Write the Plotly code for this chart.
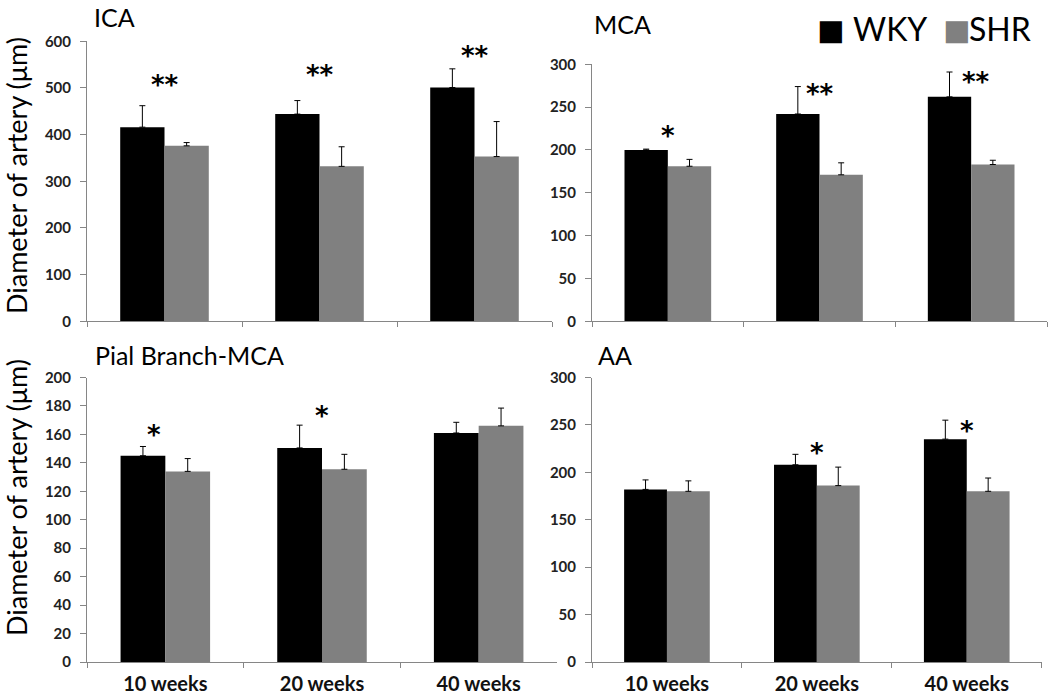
import plotly.graph_objects as go
from plotly.subplots import make_subplots

# ---------------- data ----------------
categories = ["10 weeks", "20 weeks", "40 weeks"]
panel_titles = ["ICA", "MCA", "Pial Branch-MCA", "AA"]

ica_wky = [416, 444, 501]
ica_wky_err = [46, 29, 40]
ica_shr = [376, 332, 353]
ica_shr_err = [7, 42, 75]

mca_wky = [200, 242, 262]
mca_wky_err = [1, 32, 29]
mca_shr = [181, 171, 183]
mca_shr_err = [8, 14, 5]

pial_wky = [145, 150.5, 161]
pial_wky_err = [6.5, 16, 7.5]
pial_shr = [134, 135.5, 166]
pial_shr_err = [9, 10.5, 12.5]

aa_wky = [182, 208, 235]
aa_wky_err = [10, 11, 20]
aa_shr = [180, 186, 180]
aa_shr_err = [11, 19.5, 14]

ica_stars = ["**", "**", "**"]
ica_star_y = [517, 538, 579]
mca_stars = ["*", "**", "**"]
mca_star_y = [222, 271, 285]
pial_stars = ["*", "*", ""]
pial_star_y = [163, 176.5, 0]
aa_stars = ["", "*", "*"]
aa_star_y = [0, 225.5, 249]

y_ranges = [[0, 600], [0, 300], [0, 200], [0, 300]]
y_dticks = [100, 50, 20, 50]

# ---------------- styling ----------------
W, H = 1050, 696
FONT = "Lato"
WKY_COLOR = "#000000"
SHR_COLOR = "#808080"
AXIS_COLOR = "#868686"


def px(x):
    return x / W


def py(y):
    return 1 - y / H


fig = make_subplots(rows=2, cols=2)

panels = [
    (1, 1, ica_wky, ica_wky_err, ica_shr, ica_shr_err, ica_stars, ica_star_y),
    (1, 2, mca_wky, mca_wky_err, mca_shr, mca_shr_err, mca_stars, mca_star_y),
    (2, 1, pial_wky, pial_wky_err, pial_shr, pial_shr_err, pial_stars, pial_star_y),
    (2, 2, aa_wky, aa_wky_err, aa_shr, aa_shr_err, aa_stars, aa_star_y),
]

for r, c, wky, wky_e, shr, shr_e, stars, star_y in panels:
    for name, vals, err, col in [("WKY", wky, wky_e, WKY_COLOR), ("SHR", shr, shr_e, SHR_COLOR)]:
        fig.add_trace(
            go.Bar(
                x=categories, y=vals, name=name, marker_color=col,
                marker_line_width=0, showlegend=False,
                error_y=dict(type="data", symmetric=False, array=err,
                             arrayminus=[0] * len(err), color="black",
                             thickness=1, width=3),
            ),
            row=r, col=c,
        )

domains = [
    ([px(87), px(552)], [py(321.3), py(41.3)]),
    ([px(592), px(1047)], [py(321.3), py(64.3)]),
    ([px(87), px(557)], [py(662), py(377.5)]),
    ([px(592), px(1041.7)], [py(662), py(377.5)]),
]

for i, (xd, yd) in enumerate(domains):
    sfx = "" if i == 0 else str(i + 1)
    fig.layout["xaxis" + sfx].update(
        domain=xd, type="category", showline=True, linecolor=AXIS_COLOR,
        linewidth=1, ticks="outside", tickson="boundaries", ticklen=5,
        tickcolor=AXIS_COLOR, showgrid=False, zeroline=False, automargin=False,
        showticklabels=(i >= 2), ticklabelstandoff=4,
        tickfont=dict(family=FONT, size=20, color="#111111", weight="bold"),
    )
    fig.layout["yaxis" + sfx].update(
        domain=yd, range=y_ranges[i], dtick=y_dticks[i], showline=True,
        linecolor=AXIS_COLOR, linewidth=1, ticks="outside", ticklen=6,
        tickcolor=AXIS_COLOR, showgrid=False, zeroline=False, automargin=False,
        ticklabelstandoff=6,
        tickfont=dict(family=FONT, size=15, color="#222222", weight="bold"),
    )

annotations = []
# star annotations
star_offsets = [[0, 0, 0], [0, 0, 0.03], [-0.07, 0, 0], [0, 0, 0]]
for i, (r, c, wky, wky_e, shr, shr_e, stars, star_y) in enumerate(panels):
    sfx = "" if i == 0 else str(i + 1)
    for j, s in enumerate(stars):
        if not s:
            continue
        annotations.append(dict(
            x=j + star_offsets[i][j], y=star_y[j], xref="x" + sfx, yref="y" + sfx,
            text=s, showarrow=False, xanchor="center", yanchor="middle",
            yshift=-5,
            font=dict(family="DejaVu Sans", size=26, color="black", weight="bold"),
        ))

# panel titles
title_pos = [(92, 0, "top"), (592, 24, "middle"), (93, 355, "middle"), (596, 355, "middle")]
for t, (tx, ty, anc) in zip(panel_titles, title_pos):
    annotations.append(dict(
        x=px(tx), y=py(ty), xref="paper", yref="paper", text=t,
        showarrow=False, xanchor="left", yanchor=anc,
        font=dict(family=FONT, size=25, color="black"),
    ))

# y-axis titles
for ty in [176, 498]:
    annotations.append(dict(
        x=px(16), y=py(ty), xref="paper", yref="paper",
        text="Diameter of artery (μm)", showarrow=False, textangle=-90,
        xanchor="center", yanchor="middle",
        font=dict(family=FONT, size=27, color="black"),
    ))

# legend (text based squares)
legend_items = [("WKY", WKY_COLOR, 830.5, 851), ("SHR", SHR_COLOR, 956, 967)]
for name, col, sq_x, tx_x in legend_items:
    annotations.append(dict(
        x=px(sq_x), y=py(30), xref="paper", yref="paper",
        text="■", showarrow=False, xanchor="center", yanchor="middle",
        font=dict(family="DejaVu Sans", size=29, color=col),
    ))
    annotations.append(dict(
        x=px(tx_x), y=py(29), xref="paper", yref="paper",
        text=name, showarrow=False, xanchor="left", yanchor="middle",
        font=dict(family=FONT, size=32, color="black"),
    ))

fig.update_layout(
    width=W, height=H, margin=dict(l=0, r=0, t=0, b=0),
    paper_bgcolor="white", plot_bgcolor="white",
    barmode="group", bargap=1.5 / 3.5, bargroupgap=0,
    showlegend=False, annotations=annotations,
    font=dict(family=FONT), hovermode=False,
)

fig.write_html("out.html", config={"displayModeBar": False},
               post_script="document.body.style.margin='0px';")
